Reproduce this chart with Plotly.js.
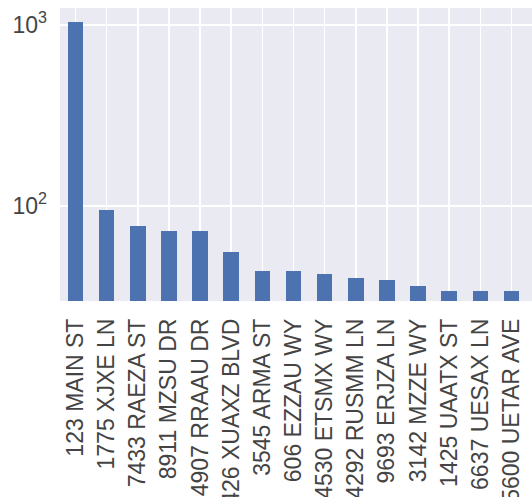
<!DOCTYPE html>
<html>
<head>
<meta charset="utf-8">
<script src="https://cdn.plot.ly/plotly-3.0.1.min.js"></script>
<style>html,body{margin:0;padding:0;background:#fff;}#chart{width:532px;height:497px;}</style>
</head>
<body>
<div id="chart"></div>
<script>
const addresses = ["123 MAIN ST","1775 XJXE LN","7433 RAEZA ST","8911 MZSU DR","4907 RRAAU DR","426 XUAXZ BLVD","3545 ARMA ST","606 EZZAU WY","4530 ETSMX WY","4292 RUSMM LN","9693 ERJZA LN","3142 MZZE WY","1425 UAATX ST","6637 UESAX LN","5600 UETAR AVE"];
const counts = [1040, 95, 78, 73, 73, 56, 44, 44, 42, 40, 39, 36, 34, 34, 34];
const yTickVals = [100, 1000];
const yTickText = ["10<sup>2</sup>", "10<sup>3</sup>"];

const idx = addresses.map((_, i) => i);
const trace = {
  type: 'bar',
  x: idx,
  y: counts,
  width: 0.5,
  marker: {color: '#4C72B0', line: {width: 0}},
  hoverinfo: 'skip'
};
const font = {family: 'Liberation Sans, Arial, sans-serif', size: 23, color: '#444444'};
const layout = {
  width: 532, height: 497,
  margin: {l: 60, r: 0, t: 8, b: 196, pad: 0},
  paper_bgcolor: '#ffffff',
  plot_bgcolor: '#EAEAF2',
  showlegend: false,
  bargap: 0,
  font: font,
  xaxis: {
    range: [-0.5, 14.66],
    tickmode: 'array',
    tickvals: idx,
    ticktext: addresses,
    tickangle: -90,
    showgrid: true,
    gridcolor: '#ffffff',
    gridwidth: 1.5,
    zeroline: false,
    showline: false,
    ticks: '',
    ticklabelstandoff: 12,
    tickfont: font,
    fixedrange: true
  },
  yaxis: {
    type: 'log',
    range: [Math.log10(29.9), 3.094],
    tickmode: 'array',
    tickvals: yTickVals,
    ticktext: yTickText,
    showgrid: true,
    gridcolor: '#ffffff',
    gridwidth: 1.5,
    zeroline: false,
    showline: false,
    ticks: '',
    ticklabelstandoff: 12,
    tickfont: font,
    fixedrange: true
  }
};
Plotly.newPlot('chart', [trace], layout, {displayModeBar: false, staticPlot: true});
</script>
</body>
</html>
